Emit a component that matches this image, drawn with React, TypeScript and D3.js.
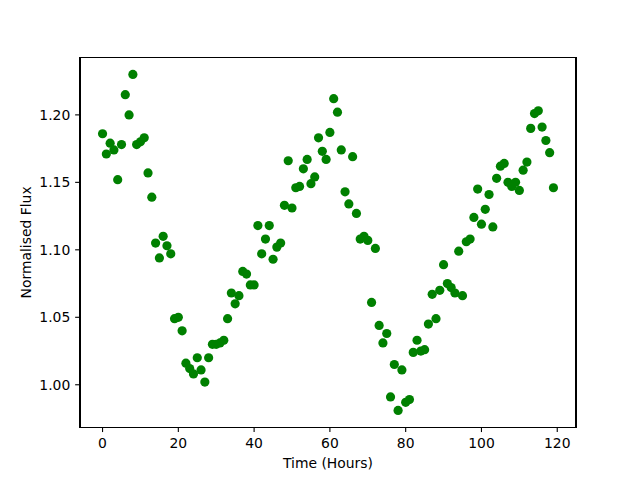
import * as d3 from 'd3';

// Time in hours (one reading every hour)
const hours: number[] = d3.range(0, 120);

// Normalised flux
const flux: number[] = [
  1.186, 1.171, 1.179, 1.174, 1.152, 1.178, 1.215, 1.200, 1.230, 1.178,
  1.180, 1.183, 1.157, 1.139, 1.105, 1.094, 1.110, 1.103, 1.097, 1.049,
  1.050, 1.040, 1.016, 1.012, 1.008, 1.020, 1.011, 1.002, 1.020, 1.030,
  1.030, 1.031, 1.033, 1.049, 1.068, 1.060, 1.066, 1.084, 1.082, 1.074,
  1.074, 1.118, 1.097, 1.108, 1.118, 1.093, 1.102, 1.105, 1.133, 1.166,
  1.131, 1.146, 1.147, 1.160, 1.167, 1.149, 1.154, 1.183, 1.173, 1.167,
  1.187, 1.212, 1.202, 1.174, 1.143, 1.134, 1.169, 1.127, 1.108, 1.110,
  1.107, 1.061, 1.101, 1.044, 1.031, 1.038, 0.991, 1.015, 0.981, 1.011,
  0.987, 0.989, 1.024, 1.033, 1.025, 1.026, 1.045, 1.067, 1.049, 1.070,
  1.089, 1.075, 1.072, 1.068, 1.099, 1.066, 1.106, 1.108, 1.124, 1.145,
  1.119, 1.130, 1.141, 1.117, 1.153, 1.162, 1.164, 1.150, 1.147, 1.150,
  1.144, 1.159, 1.165, 1.190, 1.201, 1.203, 1.191, 1.181, 1.172, 1.146,
];

const xTicks: number[] = [0, 20, 40, 60, 80, 100, 120];
const yTicks: number[] = [1.0, 1.05, 1.1, 1.15, 1.2];

const width = 640;
const height = 480;
const margin = { top: 57.6, right: 64, bottom: 52.8, left: 80 };

export default function App() {
  const innerW = width - margin.left - margin.right;
  const innerH = height - margin.top - margin.bottom;

  // matplotlib-style 5% padding around the data
  const xExt = d3.extent(hours) as [number, number];
  const yExt = d3.extent(flux) as [number, number];
  const xPad = (xExt[1] - xExt[0]) * 0.05;
  const yPad = (yExt[1] - yExt[0]) * 0.05;

  const x = d3.scaleLinear().domain([xExt[0] - xPad, xExt[1] + xPad]).range([0, innerW]);
  const y = d3.scaleLinear().domain([yExt[0] - yPad, yExt[1] + yPad]).range([innerH, 0]);

  const tickLen = 4.86;
  const font = 'DejaVu Sans, sans-serif';
  const fontSize = 13.9;

  return (
    <svg
      width={width}
      height={height}
      style={{ position: 'fixed', top: 0, left: 0, background: '#fff' }}
    >
      <rect width={width} height={height} fill="#fff" />
      <g transform={`translate(${margin.left},${margin.top})`}>
        {/* points */}
        {hours.map((h, i) => (
          <circle key={i} cx={x(h)} cy={y(flux[i])} r={4.6} fill="#008000" />
        ))}

        {/* frame */}
        <rect
          x={0}
          y={0}
          width={innerW}
          height={innerH}
          fill="none"
          stroke="#000"
          strokeWidth={1.1}
          shapeRendering="crispEdges"
        />

        {/* x ticks */}
        {xTicks.map((t) => (
          <g key={t} transform={`translate(${x(t)},${innerH})`}>
            <line y2={tickLen} stroke="#000" strokeWidth={1.1} />
            <text
              y={tickLen + 4.9}
              dy="0.76em"
              textAnchor="middle"
              fontFamily={font}
              fontSize={fontSize}
              fill="#000"
            >
              {t}
            </text>
          </g>
        ))}

        {/* y ticks */}
        {yTicks.map((t) => (
          <g key={t} transform={`translate(0,${y(t)})`}>
            <line x2={-tickLen} stroke="#000" strokeWidth={1.1} />
            <text
              x={-tickLen - 4.9}
              dy="0.35em"
              textAnchor="end"
              fontFamily={font}
              fontSize={fontSize}
              fill="#000"
            >
              {d3.format('.2f')(t)}
            </text>
          </g>
        ))}

        {/* axis labels */}
        <text
          x={innerW / 2}
          y={innerH + 41}
          textAnchor="middle"
          fontFamily={font}
          fontSize={fontSize}
          fill="#000"
        >
          Time (Hours)
        </text>
        <text
          transform={`translate(${-49},${innerH / 2}) rotate(-90)`}
          textAnchor="middle"
          fontFamily={font}
          fontSize={fontSize}
          fill="#000"
        >
          Normalised Flux
        </text>
      </g>
    </svg>
  );
}
